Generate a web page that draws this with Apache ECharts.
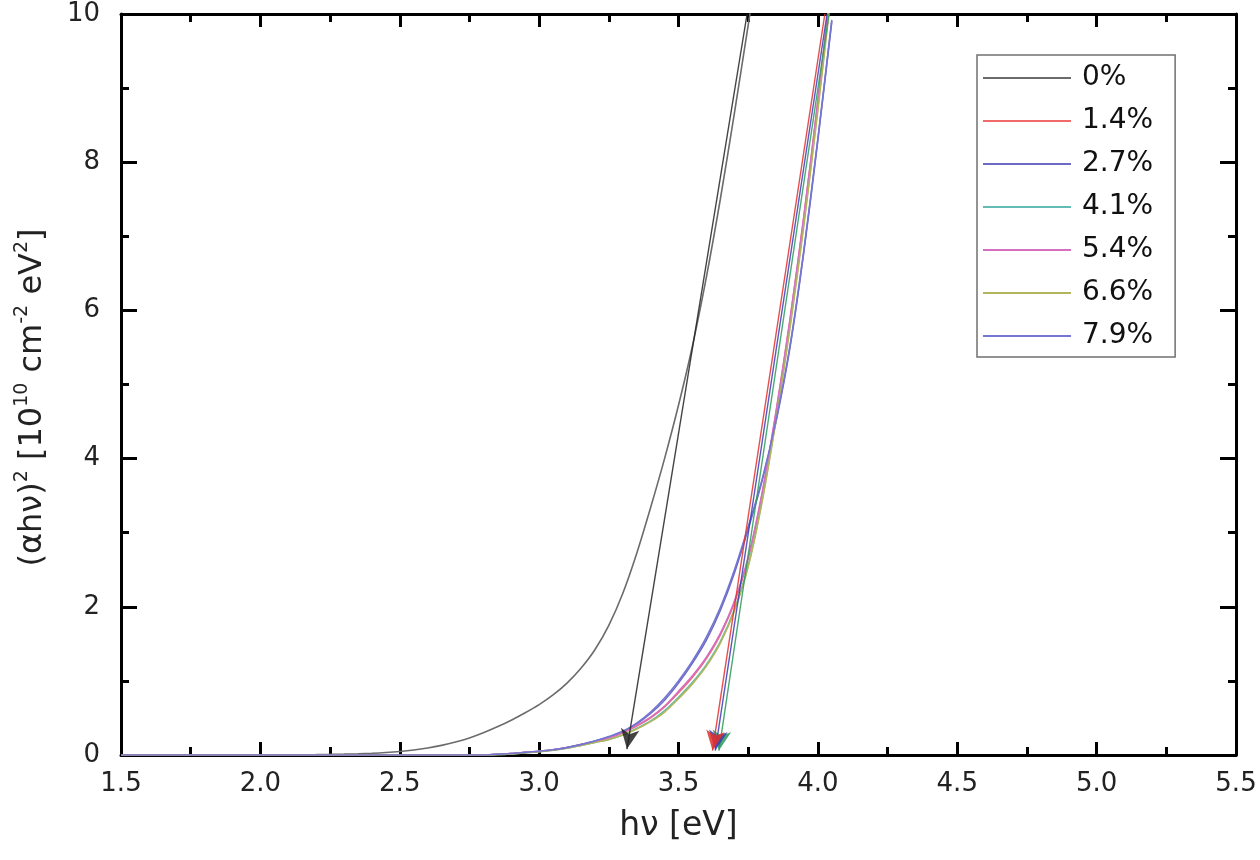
<!DOCTYPE html>
<html>
<head>
<meta charset="utf-8">
<script src="https://cdn.jsdelivr.net/npm/echarts@6/dist/echarts.min.js"></script>
<style>html,body{margin:0;padding:0;background:#fff}#c{width:1260px;height:860px}</style>
</head>
<body>
<div id="c"></div>
<script>
// ---- data ----
var seriesNames = ['0%', '1.4%', '2.7%', '4.1%', '5.4%', '6.6%', '7.9%'];
var seriesColors = ['#6b6b6b', '#f06a6a', '#6c6cc4', '#63bcb4', '#d46fc2', '#b3b55a', '#7474d2'];

var x0 = [1.5, 1.9, 2.2, 2.25, 2.3, 2.35, 2.4, 2.45, 2.5, 2.55, 2.6, 2.65, 2.7, 2.75, 2.8, 2.85, 2.9, 2.95, 3.0, 3.05, 3.1, 3.15, 3.2, 3.25, 3.3, 3.35, 3.4, 3.45, 3.5, 3.55, 3.6, 3.65, 3.7, 3.75, 3.8];
var y0 = [0, 0, 0.005, 0.008, 0.012, 0.017, 0.024, 0.034, 0.048, 0.068, 0.095, 0.13, 0.175, 0.23, 0.3, 0.38, 0.47, 0.57, 0.68, 0.81, 0.97, 1.17, 1.42, 1.75, 2.18, 2.72, 3.34, 4.0, 4.72, 5.52, 6.45, 7.5, 8.65, 9.85, 11.05];

var xDoped = [1.5, 2.0, 2.5, 2.8, 2.85, 2.9, 2.95, 3.0, 3.05, 3.1, 3.15, 3.2, 3.25, 3.3, 3.35, 3.4, 3.45, 3.5, 3.55, 3.6, 3.65, 3.7, 3.75, 3.8, 3.85, 3.9, 3.95, 4.0, 4.05];
var y14 = [0, 0, 0, 0, 0.01, 0.02, 0.035, 0.05, 0.07, 0.1, 0.14, 0.18, 0.23, 0.3, 0.39, 0.5, 0.65, 0.84, 1.05, 1.3, 1.62, 2.05, 2.65, 3.52, 4.62, 5.87, 7.27, 8.82, 10.47];
var y27 = [0, 0, 0, 0, 0.01, 0.02, 0.035, 0.05, 0.07, 0.1, 0.14, 0.19, 0.24, 0.31, 0.42, 0.56, 0.74, 0.97, 1.24, 1.55, 1.95, 2.45, 3.05, 3.7, 4.5, 5.5, 6.8, 8.3, 9.9];
var y41 = [0, 0, 0, 0, 0.005, 0.015, 0.03, 0.045, 0.065, 0.09, 0.13, 0.17, 0.21, 0.27, 0.36, 0.46, 0.6, 0.78, 0.98, 1.22, 1.53, 1.96, 2.56, 3.44, 4.55, 5.8, 7.2, 8.75, 10.4];
var y54 = [0, 0, 0, 0, 0.01, 0.02, 0.035, 0.05, 0.07, 0.1, 0.14, 0.18, 0.23, 0.3, 0.4, 0.51, 0.66, 0.86, 1.07, 1.32, 1.64, 2.07, 2.67, 3.54, 4.64, 5.88, 7.28, 8.83, 10.48];
var y66 = [0, 0, 0, 0, 0.005, 0.015, 0.03, 0.045, 0.065, 0.09, 0.13, 0.17, 0.21, 0.27, 0.35, 0.45, 0.58, 0.76, 0.96, 1.2, 1.51, 1.94, 2.54, 3.42, 4.52, 5.76, 7.15, 8.7, 10.35];
var y79 = [0, 0, 0, 0, 0.01, 0.02, 0.035, 0.05, 0.07, 0.1, 0.14, 0.19, 0.25, 0.32, 0.43, 0.58, 0.77, 1.0, 1.27, 1.59, 1.99, 2.49, 3.08, 3.72, 4.52, 5.52, 6.82, 8.32, 9.92];

// tangent (extrapolation) lines: [top point, arrow tip]
var tangent0 = [[3.746, 10], [3.315, 0.08]];
var tangentRed = [[4.025, 10], [3.622, 0.06]];
var tangentBlue = [[4.033, 10], [3.632, 0.06]];
var tangentGreen = [[4.04, 10], [3.645, 0.06]];

var xTicks = ['1.5', '2.0', '2.5', '3.0', '3.5', '4.0', '4.5', '5.0', '5.5'];
var yTicks = ['0', '2', '4', '6', '8', '10'];

function zip(xs, ys) { return xs.map(function (x, i) { return [x, ys[i]]; }); }

var yData = [y0, y14, y27, y41, y54, y66, y79];
var xData = [x0, xDoped, xDoped, xDoped, xDoped, xDoped, xDoped];
var tangents = {
  0: [tangent0, '#222', 8],
  1: [tangentRed, '#e0302a', 8],
  2: [tangentBlue, '#3b3bb8', 7],
  3: [tangentGreen, '#2a9a5a', 6]
};

var FONT = 'DejaVu Sans, Liberation Sans, sans-serif';

var series = seriesNames.map(function (name, i) {
  var s = {
    name: name,
    type: 'line',
    data: zip(xData[i], yData[i]),
    showSymbol: false,
    symbol: 'none',
    smooth: 0.3,
    lineStyle: { color: seriesColors[i], width: 1.6 },
    itemStyle: { color: seriesColors[i] },
    z: 3
  };
  if (tangents[i]) {
    var t = tangents[i];
    s.markLine = {
      silent: true,
      z: t[2],
      symbol: ['none', 'arrow'],
      symbolSize: [14, 20],
      label: { show: false },
      lineStyle: { color: t[1], width: 1.4, type: 'solid', opacity: 0.85 },
      itemStyle: { color: t[1] },
      emphasis: { disabled: true },
      data: [[{ coord: t[0][0] }, { coord: t[0][1] }]]
    };
  }
  return s;
});

var chart = echarts.init(document.getElementById('c'), null, { renderer: 'canvas' });
chart.setOption({
  backgroundColor: '#ffffff',
  animation: false,
  textStyle: { fontFamily: FONT },
  grid: { left: 121, right: 24, top: 14, bottom: 105, show: false },
  legend: {
    data: seriesNames,
    orient: 'vertical',
    left: 977,
    top: 55,
    padding: [8, 22, 6, 6],
    borderColor: '#707070',
    borderWidth: 1.5,
    backgroundColor: '#fff',
    itemWidth: 88,
    itemHeight: 20,
    itemGap: 13,
    icon: 'path://M0,9 L88,9 L88,11 L0,11 Z',
    textStyle: { fontFamily: FONT, fontSize: 28, color: '#111', lineHeight: 30, padding: [0, 0, 0, 6] }
  },
  xAxis: [{
    type: 'value', min: 1.5, max: 5.5, interval: 0.5,
    position: 'bottom',
    name: 'h\u03bd [eV]', nameLocation: 'middle', nameGap: 55,
    nameTextStyle: { fontFamily: FONT, fontSize: 33, color: '#222' },
    axisLine: { show: true, onZero: false, lineStyle: { color: '#000', width: 3 } },
    axisTick: { show: true, inside: true, length: 13, lineStyle: { color: '#000', width: 3 } },
    minorTick: { show: true, splitNumber: 2, length: 8, lineStyle: { color: '#000', width: 3 } },
    axisLabel: { fontFamily: FONT, fontSize: 26, color: '#222', margin: 16,
      formatter: function (v) { return xTicks[Math.round((v - 1.5) / 0.5)]; } },
    splitLine: { show: false }
  }, {
    type: 'value', min: 1.5, max: 5.5, interval: 0.5,
    position: 'top',
    axisLine: { show: true, onZero: false, lineStyle: { color: '#000', width: 3 } },
    axisTick: { show: true, inside: true, length: 13, lineStyle: { color: '#000', width: 3 } },
    minorTick: { show: true, splitNumber: 2, length: 8, lineStyle: { color: '#000', width: 3 } },
    axisLabel: { show: false },
    splitLine: { show: false }
  }],
  yAxis: [{
    type: 'value', min: 0, max: 10, interval: 2,
    position: 'left',
    name: '{m|(\u03b1h\u03bd)}{s|2}{m| [10}{s|10}{m| cm}{s|-2}{m| eV}{s|2}{m|]}',
    nameLocation: 'middle', nameGap: 72,
    nameTextStyle: {
      fontFamily: FONT, fontSize: 32, color: '#222', padding: [0, 26, 0, 0],
      rich: {
        m: { fontFamily: FONT, fontSize: 32, color: '#222', lineHeight: 36, verticalAlign: 'bottom' },
        s: { fontFamily: FONT, fontSize: 19, color: '#222', lineHeight: 22, verticalAlign: 'top' }
      }
    },
    axisLine: { show: true, onZero: false, lineStyle: { color: '#000', width: 3 } },
    axisTick: { show: true, inside: true, length: 16, lineStyle: { color: '#000', width: 3 } },
    minorTick: { show: true, splitNumber: 2, length: 8, lineStyle: { color: '#000', width: 3 } },
    axisLabel: { fontFamily: FONT, fontSize: 26, color: '#222', margin: 21,
      formatter: function (v) { return yTicks[Math.round(v / 2)]; } },
    splitLine: { show: false }
  }, {
    type: 'value', min: 0, max: 10, interval: 2,
    position: 'right',
    axisLine: { show: true, onZero: false, lineStyle: { color: '#000', width: 3 } },
    axisTick: { show: true, inside: true, length: 16, lineStyle: { color: '#000', width: 3 } },
    minorTick: { show: true, splitNumber: 2, length: 8, lineStyle: { color: '#000', width: 3 } },
    axisLabel: { show: false },
    splitLine: { show: false }
  }],
  series: series
});
</script>
</body>
</html>
